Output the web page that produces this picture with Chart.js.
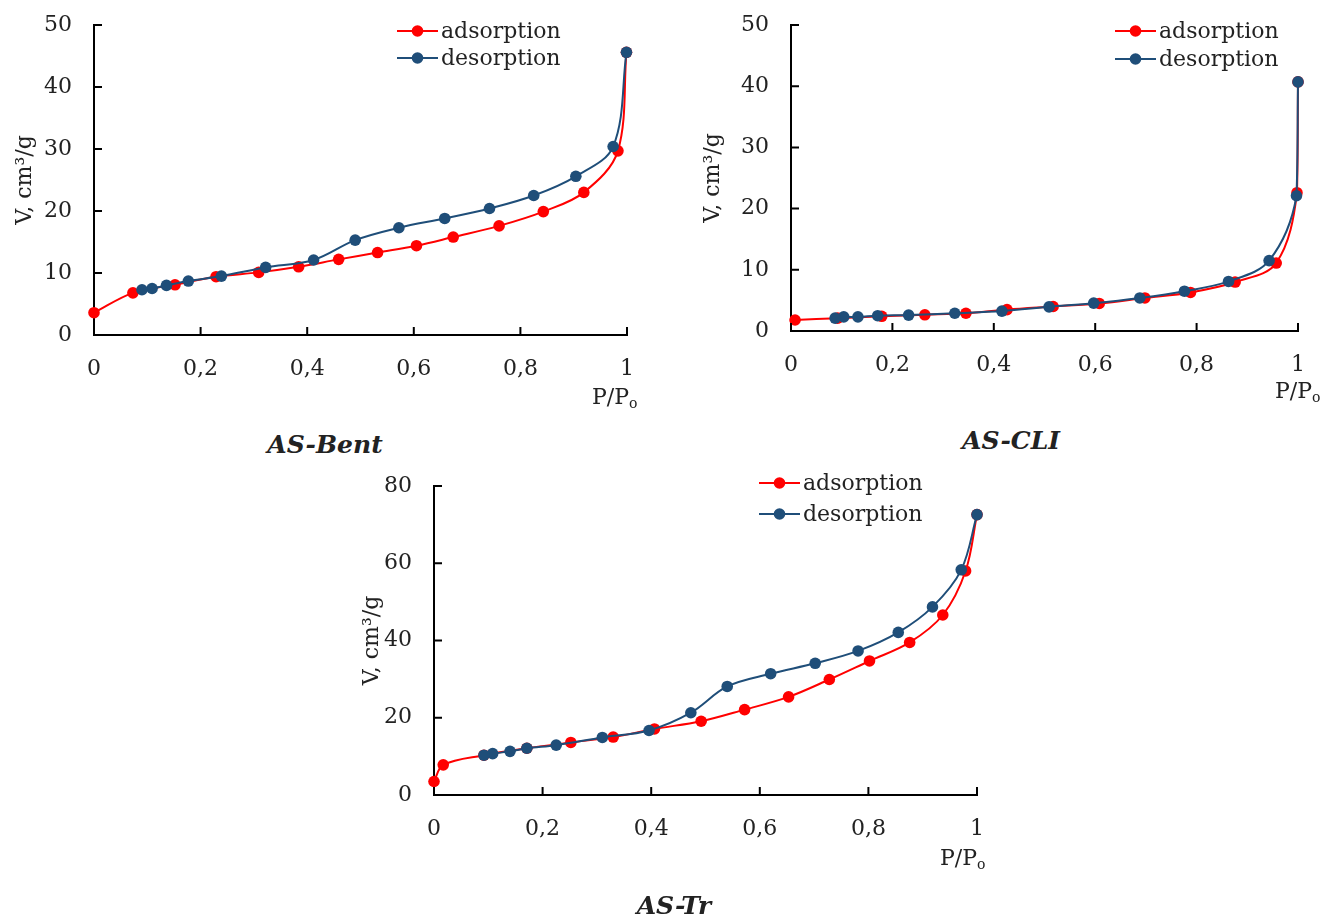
<!DOCTYPE html>
<html>
<head>
<meta charset="utf-8">
<title>Adsorption / desorption isotherms</title>
<script src="https://cdn.jsdelivr.net/npm/chart.js@4.4.0/dist/chart.umd.min.js"></script>
<style>
  body { margin: 0; background: #fff; width: 1326px; height: 918px; overflow: hidden; position: relative;
         font-family: "DejaVu Serif", serif; color: #222; }
  canvas, .txt { position: absolute; }
  .title { font-weight: bold; font-style: italic; font-size: 25px; transform: translateX(-50%); white-space: nowrap; }
  .pp { font-size: 22px; white-space: nowrap; }
  .pp sub { font-size: 14px; vertical-align: -4px; line-height: 0; }
</style>
</head>
<body>
<canvas id="bent" width="670" height="420" style="left:0;top:0"></canvas>
<canvas id="cli" width="636" height="420" style="left:690px;top:0"></canvas>
<canvas id="tr" width="680" height="458" style="left:340px;top:460px"></canvas>

<div class="txt title" style="left:325px;top:430px">AS-Bent</div>
<div class="txt title" style="left:1011px;top:426px">AS-CLI</div>
<div class="txt title" style="left:674px;top:891px">AS-Tr</div>
<div class="txt pp" style="left:592px;top:384px">P/P<sub>o</sub></div>
<div class="txt pp" style="left:1275px;top:378px">P/P<sub>o</sub></div>
<div class="txt pp" style="left:940px;top:845px">P/P<sub>o</sub></div>

<script>
// Series names
const seriesNames = ['adsorption', 'desorption'];

// AS-Bent
const bentAdsX = [0, 0.073, 0.152, 0.229, 0.309, 0.384, 0.459, 0.532, 0.605, 0.674, 0.760, 0.843, 0.919, 0.983, 0.999];
const bentAdsY = [3.6, 6.8, 8.1, 9.4, 10.1, 11.0, 12.2, 13.3, 14.4, 15.8, 17.6, 19.9, 23.0, 29.7, 45.6];
const bentDesX = [0.999, 0.974, 0.904, 0.825, 0.742, 0.658, 0.572, 0.490, 0.412, 0.322, 0.239, 0.177, 0.136, 0.109, 0.090];
const bentDesY = [45.6, 30.4, 25.6, 22.5, 20.4, 18.8, 17.3, 15.3, 12.1, 10.9, 9.5, 8.7, 8.0, 7.5, 7.3];

// AS-CLI
const cliAdsX = [0.008, 0.092, 0.179, 0.264, 0.345, 0.426, 0.517, 0.608, 0.698, 0.788, 0.876, 0.957, 0.998, 1.0];
const cliAdsY = [1.8, 2.1, 2.4, 2.65, 2.9, 3.5, 4.0, 4.5, 5.4, 6.3, 8.0, 11.1, 22.6, 40.7];
const cliDesX = [1.0, 0.997, 0.943, 0.863, 0.776, 0.688, 0.597, 0.509, 0.416, 0.323, 0.232, 0.171, 0.132, 0.104, 0.087];
const cliDesY = [40.7, 22.1, 11.5, 8.1, 6.5, 5.4, 4.55, 3.95, 3.25, 2.9, 2.6, 2.5, 2.3, 2.3, 2.1];

// AS-Tr
const trAdsX = [0, 0.017, 0.092, 0.171, 0.252, 0.330, 0.406, 0.492, 0.572, 0.653, 0.728, 0.802, 0.876, 0.937, 0.979, 1.0];
const trAdsY = [3.5, 7.8, 10.3, 12.1, 13.6, 15.0, 17.1, 19.1, 22.1, 25.4, 29.9, 34.7, 39.5, 46.6, 58.0, 72.6];
const trDesX = [1.0, 0.971, 0.918, 0.855, 0.781, 0.702, 0.620, 0.540, 0.473, 0.396, 0.310, 0.225, 0.171, 0.140, 0.108, 0.092];
const trDesY = [72.6, 58.3, 48.7, 42.1, 37.3, 34.1, 31.4, 28.1, 21.3, 16.7, 14.9, 12.9, 12.1, 11.3, 10.7, 10.3];

// y axis ranges: [max, step]
const bentYAxis = [50, 10];
const cliYAxis = [50, 10];
const trYAxis = [80, 20];

const RED = '#FF0000';
const BLUE = '#1F4E79';
const FONT = 'DejaVu Serif';

const toPoints = (xs, ys) => xs.map((x, i) => ({ x, y: ys[i] }));

// 0 and 1 without decimals, the rest with a comma
const fmtX = v => Math.abs(v - Math.round(v)) < 1e-9 ? String(Math.round(v)) : v.toFixed(1).replace('.', ',');

// Excel-style tick marks pointing into the plot
const innerTicks = {
    id: 'innerTicks',
    afterDraw(chart) {
        const { ctx, chartArea: a, scales: { x, y } } = chart;
        ctx.save();
        ctx.strokeStyle = '#000';
        ctx.lineWidth = 2;
        ctx.beginPath();
        x.ticks.forEach(t => {
            const px = x.getPixelForValue(t.value);
            ctx.moveTo(px, a.bottom);
            ctx.lineTo(px, a.bottom - 8);
        });
        y.ticks.forEach(t => {
            const py = y.getPixelForValue(t.value);
            ctx.moveTo(a.left, py);
            ctx.lineTo(a.left + 8, py);
        });
        ctx.stroke();
        ctx.restore();
    }
};

// Legend with a line and a marker, drawn inside the plot
const lineLegend = {
    id: 'lineLegend',
    afterDraw(chart, args, opts) {
        const { ctx } = chart;
        ctx.save();
        ctx.font = '22px "' + FONT + '"';
        ctx.textBaseline = 'middle';
        chart.data.datasets.forEach((ds, i) => {
            const y = opts.y + i * opts.rowH;
            ctx.strokeStyle = ds.borderColor;
            ctx.lineWidth = 2;
            ctx.beginPath();
            ctx.moveTo(opts.x, y);
            ctx.lineTo(opts.x + 41, y);
            ctx.stroke();
            ctx.fillStyle = ds.borderColor;
            ctx.beginPath();
            ctx.arc(opts.x + 20.5, y, 5.8, 0, Math.PI * 2);
            ctx.fill();
            ctx.fillStyle = '#222';
            ctx.fillText(ds.label, opts.x + 44, y + 1);
        });
        ctx.restore();
    }
};

function makeChart(id, adsX, adsY, desX, desY, yAxis, box) {
    const canvas = document.getElementById(id);
    const series = (label, xs, ys, color, order) => ({
        label: label,
        data: toPoints(xs, ys),
        borderColor: color,
        backgroundColor: color,
        borderWidth: 2,
        pointRadius: 5.8,
        pointBorderWidth: 0,
        showLine: true,
        tension: 0.35,
        clip: false,
        order: order
    });

    return new Chart(canvas, {
        type: 'scatter',
        data: {
            datasets: [
                series(seriesNames[0], adsX, adsY, RED, 2),
                series(seriesNames[1], desX, desY, BLUE, 1)
            ]
        },
        options: {
            responsive: false,
            animation: false,
            layout: {
                padding: { left: 0, top: box.top, right: canvas.width - box.right, bottom: 0 }
            },
            plugins: {
                legend: { display: false },
                tooltip: { enabled: false },
                lineLegend: box.legend
            },
            scales: {
                x: {
                    type: 'linear',
                    min: 0,
                    max: 1,
                    ticks: { stepSize: 0.2, padding: 21, color: '#222', font: { family: FONT, size: 22 }, callback: fmtX },
                    grid: { display: false, drawTicks: false },
                    border: { display: true, color: '#000', width: 2 },
                    afterFit: s => { s.height = canvas.height - box.bottom; }
                },
                y: {
                    type: 'linear',
                    min: 0,
                    max: yAxis[0],
                    ticks: { stepSize: yAxis[1], padding: 22, color: '#222', font: { family: FONT, size: 22 } },
                    grid: { display: false, drawTicks: false },
                    border: { display: true, color: '#000', width: 2 },
                    title: {
                        display: true,
                        text: 'V, cm³/g',
                        color: '#222',
                        font: { family: FONT, size: 22 },
                        padding: { top: box.titlePad, bottom: 0 }
                    },
                    // tick padding is otherwise added above the axis as well
                    afterFit: s => { s.width = box.left; s.paddingTop = 0; s.paddingBottom = 0; }
                }
            }
        },
        plugins: [innerTicks, lineLegend]
    });
}

makeChart('bent', bentAdsX, bentAdsY, bentDesX, bentDesY, bentYAxis,
    { left: 94, top: 25, right: 627, bottom: 335, titlePad: 11.8, legend: { x: 397, y: 31, rowH: 27 } });
makeChart('cli', cliAdsX, cliAdsY, cliDesX, cliDesY, cliYAxis,
    { left: 101, top: 25, right: 622, bottom: 331, titlePad: 9.8, legend: { x: 425, y: 31, rowH: 28 } });
makeChart('tr', trAdsX, trAdsY, trDesX, trDesY, trYAxis,
    { left: 94, top: 26, right: 637, bottom: 335, titlePad: 18.8, legend: { x: 419, y: 23, rowH: 31 } });
</script>
</body>
</html>
